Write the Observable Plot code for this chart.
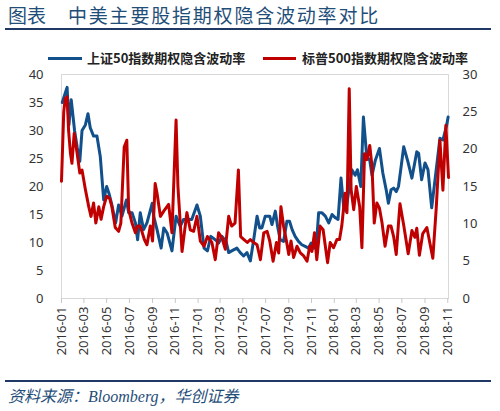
<!DOCTYPE html>
<html><head><meta charset="utf-8">
<script src="https://cdn.jsdelivr.net/npm/d3@7"></script>
<script src="https://cdn.jsdelivr.net/npm/@observablehq/plot@0.6"></script>
<style>
body{margin:0;background:#fff;width:500px;height:411px;overflow:hidden;position:relative;font-family:"Noto Sans CJK SC","Noto Sans",sans-serif}
#title{position:absolute;left:8px;top:3px;font-size:19px;line-height:24px;color:#1f4e79;white-space:nowrap}
#title .b{position:absolute;left:60px;letter-spacing:1.8px}
.rule{position:absolute;left:5px;width:486px;height:2px;background:#203864}
.lg{position:absolute;height:3px;top:57px}
.lt{position:absolute;top:49px;font-size:13px;line-height:18px;font-weight:bold;color:#222;white-space:nowrap}
#chart{position:absolute;left:0;top:66px}
#caption{position:absolute;left:8px;top:386px;font-size:16px;line-height:22px;color:#1f4e79;font-style:italic;font-family:"Liberation Serif","Noto Sans CJK SC",serif;white-space:nowrap}
</style></head>
<body>
<div id="title"><span>图表</span><span class="b">中美主要股指期权隐含波动率对比</span></div>
<div class="rule" style="top:28px"></div>
<div class="lg" style="left:48px;width:34px;background:#12508c"></div>
<div class="lt" style="left:87px">上证50指数期权隐含波动率</div>
<div class="lg" style="left:263px;width:33px;background:#c00000"></div>
<div class="lt" style="left:302px">标普500指数期权隐含波动率</div>
<div id="chart"></div>
<div class="rule" style="top:380px"></div>
<div id="caption">资料来源：Bloomberg，华创证券</div>
<script>
const seriesNames = ["上证50指数期权隐含波动率", "标普500指数期权隐含波动率"];
const leftTicks = [0, 5, 10, 15, 20, 25, 30, 35, 40];
const rightTicks = [0, 5, 10, 15, 20, 25, 30];
const xTicks = ["2016-01-01","2016-03-01","2016-05-01","2016-07-01","2016-09-01","2016-11-01","2017-01-01","2017-03-01","2017-05-01","2017-07-01","2017-09-01","2017-11-01","2018-01-01","2018-03-01","2018-05-01","2018-07-01","2018-09-01","2018-11-01"];

const blueDates = ["2016-01-03","2016-01-10","2016-01-16","2016-01-21","2016-01-27","2016-02-05","2016-02-12","2016-02-19","2016-02-25","2016-03-05","2016-03-12","2016-03-18","2016-03-27","2016-04-05","2016-04-14","2016-04-23","2016-05-01","2016-05-07","2016-05-14","2016-05-25","2016-06-02","2016-06-11","2016-06-23","2016-06-29","2016-07-08","2016-07-17","2016-07-23","2016-07-30","2016-08-08","2016-08-17","2016-08-31","2016-09-04","2016-09-13","2016-09-24","2016-10-01","2016-10-10","2016-10-23","2016-11-03","2016-11-14","2016-11-23","2016-12-02","2016-12-15","2016-12-29","2017-01-07","2017-01-17","2017-01-26","2017-02-04","2017-02-16","2017-02-25","2017-03-06","2017-03-17","2017-03-24","2017-04-01","2017-04-15","2017-04-24","2017-05-03","2017-05-12","2017-05-21","2017-05-30","2017-06-08","2017-06-15","2017-06-21","2017-06-30","2017-07-12","2017-07-18","2017-07-27","2017-08-02","2017-08-09","2017-08-18","2017-08-27","2017-09-03","2017-09-10","2017-09-18","2017-09-27","2017-10-06","2017-10-15","2017-10-24","2017-10-31","2017-11-07","2017-11-14","2017-11-20","2017-11-29","2017-12-08","2017-12-17","2017-12-26","2018-01-04","2018-01-11","2018-01-19","2018-01-26","2018-02-01","2018-02-17","2018-02-26","2018-03-04","2018-03-13","2018-03-20","2018-03-29","2018-04-06","2018-04-12","2018-04-21","2018-05-02","2018-05-11","2018-05-20","2018-05-26","2018-06-02","2018-06-09","2018-06-16","2018-06-22","2018-06-28","2018-07-06","2018-07-17","2018-07-28","2018-08-10","2018-08-15","2018-08-23","2018-09-01","2018-09-09","2018-09-19","2018-10-11","2018-10-19","2018-10-29","2018-11-02"];
const blueValues = [35,36.5,37.7,31,35.5,30,27,24.5,30,31,33,30.5,29,29,25.3,17.6,20,18.8,17,13.5,16.7,14.7,17.6,15.3,15.3,13.5,10.5,15.3,12.3,13.5,17,14.7,12.3,9,12.6,11.7,8.5,14.7,12.9,14.1,14.1,14.1,16.7,14.7,9,8.5,11.1,10.5,9.9,11.1,10.2,8.2,8.5,9,8.2,7.6,8.2,6.7,10.5,14.7,12.6,12.6,14.7,14.7,13.2,15.6,12.9,10.5,10.2,13.8,13.8,12.3,11.1,10.2,9.6,9.3,9,9.9,9,9.6,15.3,15.3,14.7,13.5,15,14.4,14.1,21.5,16.4,15.6,23,22,23,20,32.4,25.3,24.7,22,24.7,26.8,22.4,19.4,17,19.4,19.7,19.1,20,23,27.1,24.5,21.5,26.2,25.9,21.2,24.2,23,16.2,28.6,28.3,30.9,32.4];

const redDates = ["2016-01-01","2016-01-07","2016-01-11","2016-01-16","2016-01-20","2016-01-25","2016-01-29","2016-02-04","2016-02-12","2016-02-19","2016-02-25","2016-03-05","2016-03-14","2016-03-20","2016-03-27","2016-04-02","2016-04-10","2016-04-16","2016-04-23","2016-05-01","2016-05-09","2016-05-15","2016-05-24","2016-06-02","2016-06-08","2016-06-17","2016-06-24","2016-06-29","2016-07-08","2016-07-17","2016-07-23","2016-07-30","2016-08-10","2016-08-17","2016-08-26","2016-09-01","2016-09-08","2016-09-13","2016-09-22","2016-10-01","2016-10-14","2016-10-23","2016-11-03","2016-11-08","2016-11-19","2016-12-02","2016-12-11","2016-12-20","2016-12-29","2017-01-07","2017-01-17","2017-01-26","2017-02-07","2017-02-16","2017-02-25","2017-03-06","2017-03-15","2017-03-24","2017-04-01","2017-04-10","2017-04-19","2017-04-25","2017-05-04","2017-05-13","2017-05-21","2017-05-30","2017-06-08","2017-06-17","2017-06-26","2017-07-05","2017-07-12","2017-07-21","2017-07-30","2017-08-05","2017-08-11","2017-08-18","2017-08-25","2017-09-01","2017-09-07","2017-09-14","2017-09-23","2017-10-02","2017-10-11","2017-10-20","2017-10-27","2017-11-02","2017-11-09","2017-11-15","2017-11-24","2017-12-02","2017-12-08","2017-12-14","2017-12-21","2017-12-30","2018-01-08","2018-01-15","2018-01-21","2018-01-30","2018-02-04","2018-02-10","2018-02-15","2018-02-22","2018-03-01","2018-03-10","2018-03-16","2018-03-23","2018-03-29","2018-04-06","2018-04-12","2018-04-18","2018-04-25","2018-05-02","2018-05-09","2018-05-17","2018-05-26","2018-06-02","2018-06-09","2018-06-16","2018-06-22","2018-06-26","2018-07-06","2018-07-18","2018-07-28","2018-08-05","2018-08-10","2018-08-17","2018-08-26","2018-09-06","2018-09-22","2018-10-01","2018-10-11","2018-10-19","2018-10-27","2018-11-03"];
const redValues = [15.7,25,26.8,27,22.5,19.4,18.1,22.1,19.4,16.8,17.2,14.6,12.3,11,12.8,10.1,12.3,10.6,12.3,13.7,13.4,12.3,9.5,9,10.1,20.3,21.2,11.9,10.1,8.8,9.7,9.7,7.9,7.2,9.7,7.7,15.4,14.1,11,11.7,12.6,8.8,23.9,15,6.3,11.5,9.2,9,11,7.7,7,8.3,7.5,5.2,8.8,8.1,6.6,11,9.7,10.1,17.2,8.3,7.9,7.5,7.9,7.5,7.2,5.2,8.8,9,7.7,5,7.5,6.1,12.3,9.7,7.9,5.9,7.7,5.5,7,6.1,5.7,5,7,6.3,8.8,5.2,9.7,9.2,7,4.8,7.5,6.8,7.9,7.9,9.7,14.1,11.5,28.1,14.6,11.9,15,12.3,6.8,19.4,18.6,20.5,17.7,10.1,12.8,12.1,10.1,7,9.7,9.7,8.3,5.9,10.1,12.7,9.8,6,9.1,8.2,9.4,5.8,8.7,9.5,5.4,12,21.2,14.5,23.2,16.2];

const toDate = s => new Date(s + "T00:00:00Z");
const blue = blueDates.map((d, i) => ({date: toDate(d), v: blueValues[i], s: seriesNames[0]}));
const red = redDates.map((d, i) => ({date: toDate(d), v: redValues[i], s: seriesNames[1]}));
const k = 40 / 30; // right axis (0–30) mapped onto left axis (0–40)

const chart = Plot.plot({
  width: 500, height: 292,
  marginTop: 8, marginBottom: 60, marginLeft: 61, marginRight: 52,
  style: {fontFamily: "'Noto Sans', sans-serif", fontSize: "13px", color: "#333", background: "#fff"},
  x: {type: "utc", domain: [toDate("2016-01-01"), toDate("2018-11-03")]},
  y: {domain: [0, 40]},
  marks: [
    Plot.frame({stroke: "#d9d9d9"}),
    Plot.axisY(leftTicks, {anchor: "left", tickSize: 0, tickPadding: 18, label: null, fill: "#333"}),
    Plot.axisY(rightTicks.map(v => v * k), {anchor: "right", tickSize: 0, tickPadding: 14, label: null, fill: "#333", tickFormat: d => String(Math.round(d / k))}),
    Plot.axisX(xTicks.map(toDate), {tickSize: 5, tickPadding: 3, tickRotate: -90, stroke: "#c8c8c8", fill: "#333", label: null, tickFormat: d3.utcFormat("%Y-%m")}),
    Plot.line(blue, {x: "date", y: "v", stroke: "#12508c", strokeWidth: 3}),
    Plot.line(red, {x: "date", y: d => d.v * k, stroke: "#c00000", strokeWidth: 3})
  ]
});
document.getElementById("chart").appendChild(chart);
</script>
</body></html>
